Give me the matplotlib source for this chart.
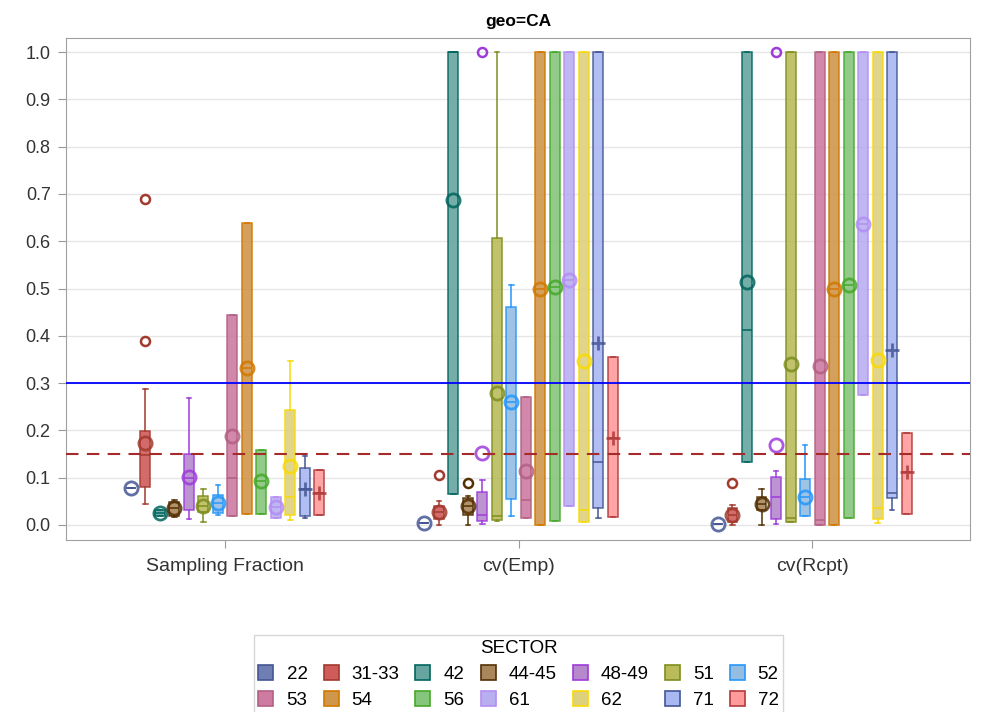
import matplotlib.pyplot as plt
from matplotlib.patches import Patch

plt.rcParams['font.family'] = ['Liberation Sans', 'DejaVu Sans']

stat_labels = ['Sampling Fraction', 'cv(Emp)', 'cv(Rcpt)']
sectors = ['22', '31-33', '42', '44-45', '48-49', '51', '52',
           '53', '54', '56', '61', '62', '71', '72']

fill_colors = ['#6F7EB3', '#D05B5B', '#66A5A0', '#A9865B', '#B689CD', '#BABC5C', '#94BDE1',
               '#CD7BA1', '#CF974B', '#86C67C', '#B9AEF0', '#DDD17E', '#A9B7F3', '#FF9B9B']
line_colors = ['#445694', '#A23A2E', '#01665E', '#543005', '#9D3CDB', '#7F8E1F', '#2597FA',
               '#B26084', '#D17800', '#47A82A', '#B38EF3', '#F9DA04', '#445694', '#B23A3A']
mean_markers = ['o'] * 12 + ['+', '+']

# per statistic: one value per sector, same order as `sectors`
q1 = {
    'Sampling Fraction': [0.077, 0.081, 0.019, 0.019, 0.032, 0.028, 0.025, 0.019, 0.023, 0.023, 0.014, 0.021, 0.019, 0.021],
    'cv(Emp)':           [0.004, 0.012, 0.065, 0.021, 0.008, 0.011, 0.055, 0.014, 0.000, 0.009, 0.039, 0.007, 0.035, 0.016],
    'cv(Rcpt)':          [0.002, 0.007, 0.132, 0.032, 0.012, 0.005, 0.019, 0.000, 0.000, 0.014, 0.275, 0.012, 0.056, 0.023],
}
median = {
    'Sampling Fraction': [0.077, 0.148, 0.025, 0.035, 0.100, 0.040, 0.046, 0.100, 0.331, 0.092, 0.037, 0.059, 0.075, 0.068],
    'cv(Emp)':           [0.004, 0.027, 1.000, 0.039, 0.021, 0.019, 0.259, 0.053, 0.499, 0.504, 0.518, 0.032, 0.132, 0.183],
    'cv(Rcpt)':          [0.002, 0.021, 0.412, 0.044, 0.059, 0.015, 0.058, 0.010, 0.499, 0.507, 0.636, 0.035, 0.067, 0.111],
}
q3 = {
    'Sampling Fraction': [0.077, 0.199, 0.031, 0.049, 0.150, 0.060, 0.063, 0.445, 0.639, 0.159, 0.059, 0.243, 0.120, 0.116],
    'cv(Emp)':           [0.004, 0.039, 1.000, 0.056, 0.069, 0.607, 0.460, 0.271, 1.000, 1.000, 1.000, 1.000, 1.000, 0.355],
    'cv(Rcpt)':          [0.002, 0.035, 1.000, 0.059, 0.102, 1.000, 0.097, 1.000, 1.000, 1.000, 1.000, 1.000, 1.000, 0.195],
}
whisker_lo = {
    'Sampling Fraction': [0.077, 0.044, 0.019, 0.016, 0.012, 0.007, 0.020, 0.019, 0.023, 0.023, 0.014, 0.011, 0.015, 0.021],
    'cv(Emp)':           [0.004, 0.000, 0.065, 0.000, 0.001, 0.008, 0.019, 0.014, 0.000, 0.009, 0.039, 0.007, 0.014, 0.016],
    'cv(Rcpt)':          [0.002, 0.000, 0.132, 0.000, 0.001, 0.005, 0.019, 0.000, 0.000, 0.014, 0.275, 0.004, 0.032, 0.023],
}
whisker_hi = {
    'Sampling Fraction': [0.077, 0.287, 0.031, 0.052, 0.268, 0.075, 0.084, 0.445, 0.639, 0.159, 0.059, 0.347, 0.146, 0.116],
    'cv(Emp)':           [0.004, 0.051, 1.000, 0.060, 0.095, 1.000, 0.507, 0.271, 1.000, 1.000, 1.000, 1.000, 1.000, 0.355],
    'cv(Rcpt)':          [0.002, 0.042, 1.000, 0.075, 0.115, 1.000, 0.169, 1.000, 1.000, 1.000, 1.000, 1.000, 1.000, 0.195],
}
mean = {
    'Sampling Fraction': [0.077, 0.174, 0.025, 0.035, 0.102, 0.040, 0.046, 0.188, 0.331, 0.092, 0.037, 0.125, 0.075, 0.068],
    'cv(Emp)':           [0.004, 0.027, 0.687, 0.039, 0.151, 0.278, 0.259, 0.114, 0.499, 0.504, 0.518, 0.347, 0.384, 0.183],
    'cv(Rcpt)':          [0.002, 0.021, 0.513, 0.044, 0.168, 0.340, 0.058, 0.336, 0.499, 0.507, 0.636, 0.349, 0.370, 0.111],
}
outliers = {
    'Sampling Fraction': {'31-33': [0.39, 0.69]},
    'cv(Emp)':           {'31-33': [0.106], '44-45': [0.088], '48-49': [1.0]},
    'cv(Rcpt)':          {'31-33': [0.089], '48-49': [1.0]},
}

fig = plt.figure(figsize=(9.84, 7.12), dpi=100)
ax = fig.add_axes([0.067, 0.2416, 0.919, 0.705])

step = 0.0494
box_w = 0.034
n = len(sectors)

for i, sec in enumerate(sectors):
    offset = (i - (n - 1) / 2) * step
    stats = []
    for s in stat_labels:
        stats.append(dict(q1=q1[s][i], med=median[s][i], q3=q3[s][i],
                          whislo=whisker_lo[s][i], whishi=whisker_hi[s][i],
                          mean=mean[s][i], fliers=outliers[s].get(sec, [])))
    fc, lc = fill_colors[i], line_colors[i]
    pos = [k + offset for k in range(len(stat_labels))]
    ax.bxp(stats, positions=pos, widths=box_w, capwidths=box_w * 0.45,
           patch_artist=True, showmeans=True, manage_ticks=False,
           boxprops=dict(facecolor=fc, edgecolor=lc, linewidth=1.1, alpha=0.9),
           medianprops=dict(color=lc, linewidth=1.1),
           whiskerprops=dict(color=lc, linewidth=1.1),
           capprops=dict(color=lc, linewidth=1.1),
           meanprops=dict(marker=mean_markers[i], markersize=9.5, markerfacecolor='none',
                          markeredgecolor=lc, markeredgewidth=2, alpha=0.85),
           flierprops=dict(marker='o', markersize=6.5, markerfacecolor='none',
                           markeredgecolor=lc, markeredgewidth=1.8))

# reference lines
ax.axhline(0.3, color='#0000FF', linewidth=1.3, zorder=5)
ax.axhline(0.15, color='#A52A2A', linewidth=1.5, linestyle=(0, (6, 4)), zorder=5)

ax.set_xlim(-0.542, 2.538)
ax.set_ylim(-0.032, 1.03)
ax.set_xticks(range(len(stat_labels)))
ax.set_xticklabels(stat_labels)
ax.set_yticks([k / 10 for k in range(11)])
ax.set_yticklabels([f'{k / 10:.1f}' for k in range(11)])
ax.tick_params(colors='#333333', length=6, color='#999999')
ax.tick_params(axis='y', labelsize=13, pad=5)
ax.tick_params(axis='x', labelsize=14, pad=7)
ax.yaxis.grid(True, color='#E6E6E6', linewidth=1)
ax.set_axisbelow(True)
for sp in ax.spines.values():
    sp.set_color('#A0A0A0')
ax.set_title('geo=CA', fontsize=12.5, fontweight='bold', pad=9)

# legend laid out in rows of seven
handles = [Patch(facecolor=fill_colors[i], edgecolor=line_colors[i], linewidth=1.2, label=s)
           for i, s in enumerate(sectors)]
order = []
for c in range(7):
    order += [c, c + 7]
leg = fig.legend([handles[k] for k in order], [sectors[k] for k in order],
                 ncol=7, title='SECTOR', loc='upper center', bbox_to_anchor=(0.527, 0.108),
                 fontsize=13.5, title_fontsize=13.5, frameon=True, fancybox=False,
                 handlelength=0.8, handleheight=0.8, columnspacing=0.85,
                 handletextpad=0.7, labelspacing=0.45, borderpad=0.25, borderaxespad=0)
leg.get_frame().set_edgecolor('#CCCCCC')

fig.savefig('out.png', dpi=100)
